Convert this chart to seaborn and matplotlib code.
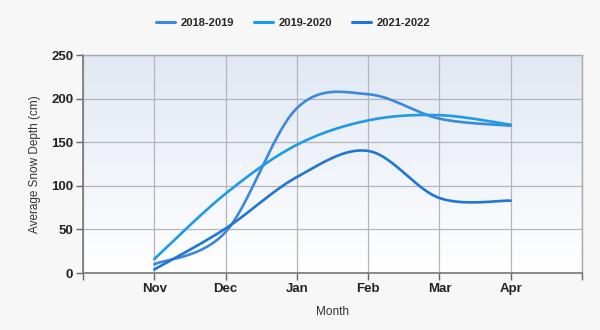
import numpy as np
import pandas as pd
import matplotlib
matplotlib.use("Agg")
import matplotlib.pyplot as plt
import seaborn as sns

months = ["Nov", "Dec", "Jan", "Feb", "Mar", "Apr"]
seasons = ["2018-2019", "2019-2020", "2021-2022"]
depth_2018_2019 = [10, 47, 189, 205, 177, 169]
depth_2019_2020 = [16, 91, 147, 175, 181, 170]
depth_2021_2022 = [4, 51, 110, 140, 86, 83]
y_ticks = [0, 50, 100, 150, 200, 250]

colors = ["#3a88e0", "#1e9ae6", "#1f76d6"]


def cardinal_spline(xs, ys, n=60):
    """Catmull-Rom style cardinal spline (tension 0.5) through the points."""
    p = np.column_stack([xs, ys]).astype(float)
    m = len(p)
    tang = np.zeros_like(p)
    for i in range(m):
        if i == 0:
            tang[i] = (p[1] - p[0]) / 2
        elif i == m - 1:
            tang[i] = (p[-1] - p[-2]) / 2
        else:
            tang[i] = (p[i + 1] - p[i - 1]) / 2
    out = []
    t = np.linspace(0, 1, n)[:, None]
    for i in range(m - 1):
        b0 = p[i]
        b1 = p[i] + tang[i] / 3
        b2 = p[i + 1] - tang[i + 1] / 3
        b3 = p[i + 1]
        seg = ((1 - t) ** 3) * b0 + 3 * ((1 - t) ** 2) * t * b1 + 3 * (1 - t) * t ** 2 * b2 + t ** 3 * b3
        out.append(seg if i == 0 else seg[1:])
    return np.vstack(out)


rows = []
for season, vals in zip(seasons, [depth_2018_2019, depth_2019_2020, depth_2021_2022]):
    curve = cardinal_spline(np.arange(len(months)), vals)
    for k, (cx, cy) in enumerate(curve):
        rows.append({"Season": season, "order": k, "x": cx, "Depth": cy})
df = pd.DataFrame(rows)

sns.set_style("white")
plt.rcParams["font.family"] = ["Liberation Sans", "DejaVu Sans"]

fig = plt.figure(figsize=(6.0, 3.3), dpi=100, facecolor="#f7f7f7")
ax = fig.add_axes([83 / 600, 1 - 273 / 330, (582 - 83) / 600, (273 - 55) / 330])
ax.set_facecolor("white")

# vertical gradient backdrop for the plotting area
grad = np.linspace(0, 1, 256)[:, None]
cmap = matplotlib.colors.LinearSegmentedColormap.from_list("bg", ["#ffffff", "#e1e8f3"])
ax.imshow(grad, extent=[-1, 6, 0, 250], origin="lower", aspect="auto", cmap=cmap, zorder=0)

sns.lineplot(data=df, x="x", y="Depth", hue="Season", hue_order=seasons,
             palette=colors, sort=False, estimator=None, units="Season",
             linewidth=1.9, ax=ax, zorder=3, legend=False)

ax.set_xlim(-1, 6)
ax.set_ylim(0, 250)
ax.set_xticks(range(-1, 7))
ax.set_xticklabels([""] + months + [""], fontweight="bold", fontsize=9.5, color="#222222")
ax.set_yticks(y_ticks)
ax.set_yticklabels([str(v) for v in y_ticks], fontweight="bold", fontsize=9.5, color="#222222")
ax.tick_params(axis="both", direction="out", length=5, width=1, color="#666666", pad=2,
               bottom=True, left=True)

ax.grid(True, color="#b4b4bc", linewidth=0.9, zorder=1)
ax.set_axisbelow(True)
for side in ["left", "bottom"]:
    ax.spines[side].set_color("#777777")
    ax.spines[side].set_linewidth(1.2)
for side in ["top", "right"]:
    ax.spines[side].set_color("#a8a8b0")
    ax.spines[side].set_linewidth(1.0)

ax.set_xlabel("Month", fontsize=8.5, color="#333333", labelpad=8)
ax.set_ylabel("Average Snow Depth (cm)", fontsize=8.5, color="#333333", labelpad=7)

handles = [plt.Line2D([], [], color=c, linewidth=2.2) for c in colors]
fig.legend(handles, seasons, loc="center", bbox_to_anchor=(293 / 600, 1 - 23 / 330), ncol=3,
           frameon=False, handlelength=1.7, columnspacing=1.8, handletextpad=0.5,
           prop={"weight": "bold", "size": 8})

fig.savefig("out.png", dpi=100, facecolor=fig.get_facecolor())
